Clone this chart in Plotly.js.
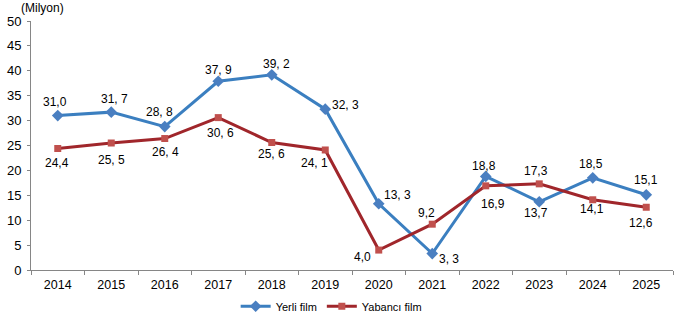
<!DOCTYPE html>
<html>
<head>
<meta charset="utf-8">
<script src="https://cdn.plot.ly/plotly-3.0.1.min.js"></script>
<style>
  html, body { margin: 0; padding: 0; background: #fff; }
  #chart { width: 680px; height: 319px; }
</style>
</head>
<body>
<div id="chart"></div>
<script>
// Years on the category axis
const years = ['2014','2015','2016','2017','2018','2019','2020','2021','2022','2023','2024','2025'];

// Audience, million people
const yerliValues   = [31.0, 31.7, 28.8, 37.9, 39.2, 32.3, 13.3, 3.3, 18.8, 13.7, 18.5, 15.1];
const yabanciValues = [24.4, 25.5, 26.4, 30.6, 25.6, 24.1, 4.0, 9.2, 16.9, 17.3, 14.1, 12.6];

// Value labels as printed next to each point
const yerliLabels   = ['31,0','31, 7','28, 8','37, 9','39, 2','32, 3','13, 3','3, 3','18,8','13,7','18,5','15,1'];
const yabanciLabels = ['24,4','25, 5','26, 4','30, 6','25, 6','24, 1','4,0','9,2','16,9','17,3','14,1','12,6'];

const seriesNames = ['Yerli film', 'Yabancı film'];
const yTicks = [0, 5, 10, 15, 20, 25, 30, 35, 40, 45, 50];

// Label placement relative to each marker, in pixels: [dx, dy] with dy pointing down
const yerliOffsets = [[-3,-14],[3,-13],[-5,-15],[0,-11],[5,-11],[20,-4],[19,-9],[17,5],[-2,-10],[-3,11],[-2,-14],[0,-15]];
const yabanciOffsets = [[-1,15],[0,17],[1,13],[2,15],[0,11],[-11,13],[-16,7],[-6,-11],[7,18],[-3,-13],[-1,9],[-5,16]];

const FONT = 'Arial, "Liberation Sans", sans-serif';
const BLUE_LINE = '#3B7FC0', BLUE_MARK = '#4A7FC1';
const RED_LINE = '#A0262B', RED_MARK = '#C0504D';

const traces = [
  {
    x: years, y: yerliValues, name: seriesNames[0], type: 'scatter', mode: 'lines+markers',
    line: { color: BLUE_LINE, width: 3 },
    marker: { symbol: 'diamond', size: 9, color: BLUE_MARK }
  },
  {
    x: years, y: yabanciValues, name: seriesNames[1], type: 'scatter', mode: 'lines+markers',
    line: { color: RED_LINE, width: 3 },
    marker: { symbol: 'square', size: 7, color: RED_MARK }
  }
];

// One annotation per point, anchored at the point's category index and value
function labelAnnotations(values, labels, offsets) {
  return values.map((v, i) => ({
    x: i, y: v, xref: 'x', yref: 'y', text: labels[i], showarrow: false,
    xanchor: 'center', yanchor: 'middle',
    xshift: offsets[i][0], yshift: -offsets[i][1],
    font: { family: FONT, size: 12, color: '#000000' }
  }));
}

const annotations = labelAnnotations(yerliValues, yerliLabels, yerliOffsets)
  .concat(labelAnnotations(yabanciValues, yabanciLabels, yabanciOffsets))
  .concat([{
    text: '(Milyon)', xref: 'paper', yref: 'paper', x: -0.019, y: 1.052,
    xanchor: 'left', yanchor: 'middle', showarrow: false,
    font: { family: FONT, size: 12, color: '#000' }
  }]);

const layout = {
  width: 680, height: 319,
  margin: { l: 31, r: 7, t: 21, b: 49 },
  paper_bgcolor: '#fff', plot_bgcolor: '#fff',
  font: { family: FONT, size: 12, color: '#000' },
  showlegend: true,
  legend: {
    orientation: 'h', xref: 'container', yref: 'container',
    x: 0.487, xanchor: 'center', y: 0.04, yanchor: 'middle',
    font: { family: FONT, size: 11, color: '#000' },
    itemwidth: 30, bgcolor: 'rgba(0,0,0,0)'
  },
  xaxis: {
    type: 'category', range: [-0.5, 11.5], showgrid: false, zeroline: false,
    showline: true, linecolor: '#868686', linewidth: 1,
    ticks: 'outside', tickson: 'boundaries', ticklen: 4, tickcolor: '#868686',
    ticklabelstandoff: 3,
    tickfont: { family: FONT, size: 12.5, color: '#000' }
  },
  yaxis: {
    range: [0, 50], tickvals: yTicks, showgrid: false, zeroline: false,
    showline: true, linecolor: '#868686', linewidth: 1,
    ticks: 'outside', ticklen: 3, tickcolor: '#868686',
    ticklabelstandoff: 3,
    tickfont: { family: FONT, size: 13, color: '#000' }
  },
  annotations: annotations
};

Plotly.newPlot('chart', traces, layout, { displayModeBar: false, staticPlot: true });
</script>
</body>
</html>
